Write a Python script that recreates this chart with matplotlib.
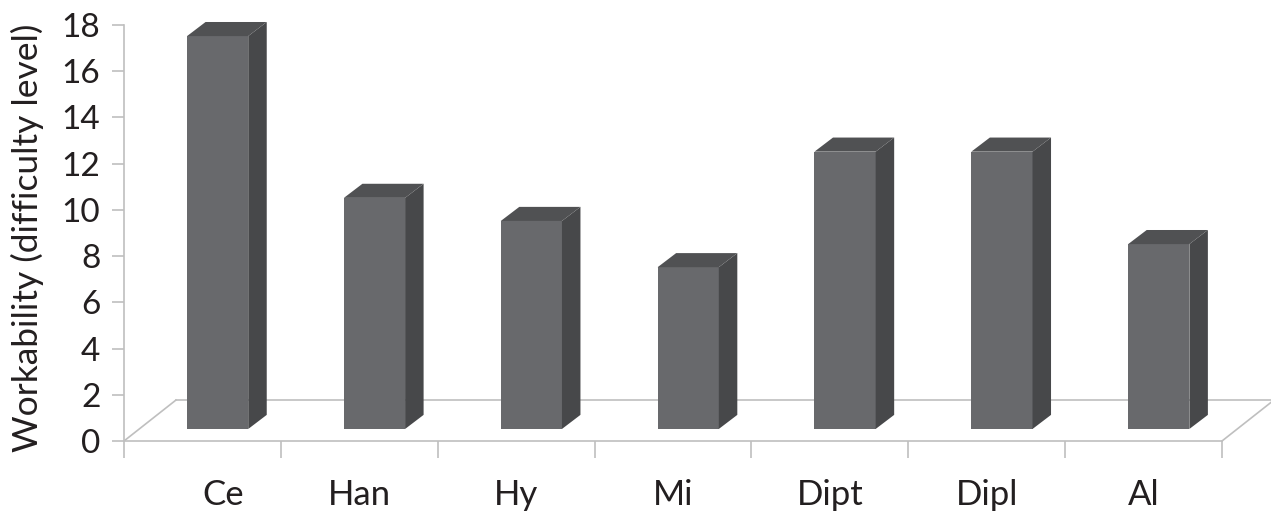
import matplotlib
matplotlib.use("Agg")
import matplotlib.pyplot as plt
from matplotlib.patches import Polygon

categories = ["Ce", "Han", "Hy", "Mi", "Dipt", "Dipl", "Al"]
values = [17, 10, 9, 7, 12, 12, 8]
yticks = [0, 2, 4, 6, 8, 10, 12, 14, 16, 18]

plt.rcParams['font.family'] = ['Lato', 'DejaVu Sans']

grid_col = "#bfbfbf"
front_col = "#68696c"
side_col = "#47484a"
top_col = "#505153"
text_col = "#231f20"

W, H = 1271, 511
fig = plt.figure(figsize=(W / 100, H / 100), dpi=100)
# axes covers the front plane of the 3d box
ax = fig.add_axes([124 / W, (H - 441) / H, 1098 / W, 416 / H])
ax.set_xlim(0, len(categories))
ax.set_ylim(0, 18)

# depth of the floor and of the bars, in data units
floor_dx, floor_dy = 0.331, 1.77
bar_dx, bar_dy = 0.097, 0.52     # where the bar front face sits
side_dx, side_dy = 0.118, 0.61   # bar thickness
bw = 0.39

n = len(categories)
# floor outline
ax.plot([floor_dx, n + floor_dx], [floor_dy, floor_dy], color=grid_col, lw=1.2,
        zorder=1, clip_on=False)
ax.plot([0, floor_dx], [0, floor_dy], color=grid_col, lw=1.2, zorder=1, clip_on=False)
ax.plot([n, n + floor_dx], [0, floor_dy], color=grid_col, lw=1.2, zorder=1, clip_on=False)

xs = [i + 0.5 - bw / 2 + bar_dx for i in range(n)]
ax.bar(xs, values, width=bw, bottom=bar_dy, align='edge', color=front_col,
       zorder=3, clip_on=False)
for x, v in zip(xs, values):
    x1 = x + bw
    ytop = bar_dy + v
    side = [(x1, bar_dy), (x1 + side_dx, bar_dy + side_dy),
            (x1 + side_dx, ytop + side_dy), (x1, ytop)]
    top = [(x, ytop), (x1, ytop), (x1 + side_dx, ytop + side_dy),
           (x + side_dx, ytop + side_dy)]
    ax.add_patch(Polygon(side, closed=True, color=side_col, lw=0, zorder=3, clip_on=False))
    ax.add_patch(Polygon(top, closed=True, color=top_col, lw=0, zorder=3, clip_on=False))

for s in ["top", "right"]:
    ax.spines[s].set_visible(False)
ax.spines["left"].set_color(grid_col)
ax.spines["bottom"].set_color(grid_col)
ax.spines["left"].set_linewidth(1.2)
ax.spines["bottom"].set_linewidth(1.2)

ax.set_yticks(yticks)
ax.tick_params(axis='y', length=9, width=1.2, color=grid_col, pad=8,
               labelsize=24, labelcolor=text_col)
ax.set_xticks(range(n + 1))
ax.set_xticklabels([])
ax.tick_params(axis='x', length=12, width=1.2, color=grid_col)

for i, lab in enumerate(categories):
    nudge = 21 if i == 0 else 0
    ax.annotate(lab, (i + 0.5, 0), xytext=(nudge, -64), textcoords='offset pixels',
                ha='center', va='baseline', fontsize=25, color=text_col,
                annotation_clip=False)

fig.text(27 / W, 1 - 238 / H, "Workability (difficulty level)", rotation=90,
         ha='center', va='center', fontsize=25.5, color=text_col)

fig.savefig("out.png", dpi=100)
